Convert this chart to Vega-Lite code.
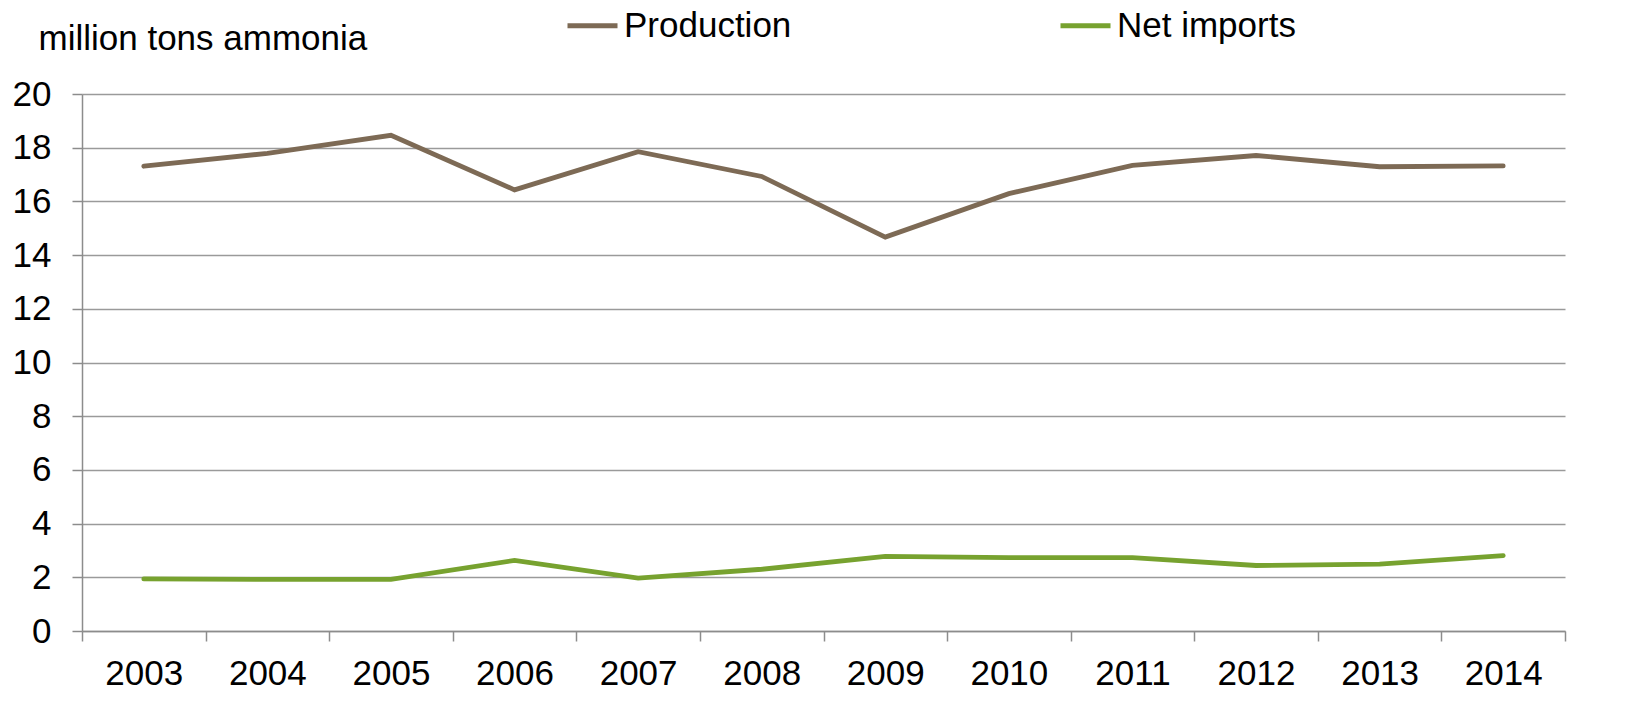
{
  "$schema": "https://vega.github.io/schema/vega-lite/v6.json",
  "autosize": "none",
  "width": 1483,
  "height": 537,
  "padding": {"left": 82, "top": 94, "right": 87, "bottom": 93},
  "background": "white",
  "config": {"font": "Liberation Sans", "view": {"stroke": null}},
  "data": {"values": [
    {"year": "2003", "series": "Production", "value": 17.31},
    {"year": "2004", "series": "Production", "value": 17.79},
    {"year": "2005", "series": "Production", "value": 18.46},
    {"year": "2006", "series": "Production", "value": 16.43},
    {"year": "2007", "series": "Production", "value": 17.85},
    {"year": "2008", "series": "Production", "value": 16.93},
    {"year": "2009", "series": "Production", "value": 14.67},
    {"year": "2010", "series": "Production", "value": 16.29},
    {"year": "2011", "series": "Production", "value": 17.34},
    {"year": "2012", "series": "Production", "value": 17.71},
    {"year": "2013", "series": "Production", "value": 17.29},
    {"year": "2014", "series": "Production", "value": 17.32},
    {"year": "2003", "series": "Net imports", "value": 1.94},
    {"year": "2004", "series": "Net imports", "value": 1.92},
    {"year": "2005", "series": "Net imports", "value": 1.92},
    {"year": "2006", "series": "Net imports", "value": 2.63},
    {"year": "2007", "series": "Net imports", "value": 1.97},
    {"year": "2008", "series": "Net imports", "value": 2.3},
    {"year": "2009", "series": "Net imports", "value": 2.78},
    {"year": "2010", "series": "Net imports", "value": 2.73},
    {"year": "2011", "series": "Net imports", "value": 2.73},
    {"year": "2012", "series": "Net imports", "value": 2.44},
    {"year": "2013", "series": "Net imports", "value": 2.49},
    {"year": "2014", "series": "Net imports", "value": 2.81}
  ]},
  "mark": {"type": "line", "strokeWidth": 4.8, "strokeCap": "round", "strokeJoin": "miter"},
  "encoding": {
    "x": {
      "field": "year", "type": "ordinal", "bandPosition": 0.5,
      "scale": {"type": "band", "paddingInner": 0, "paddingOuter": 0},
      "axis": {
        "title": null, "labelAngle": 0, "labelFontSize": 35, "labelColor": "#000000",
        "labelPadding": 15, "tickBand": "extent", "tickSize": 10, "tickColor": "#8c8c8c",
        "tickWidth": 1.5, "domainColor": "#8c8c8c", "domainWidth": 1.5, "grid": false
      }
    },
    "y": {
      "field": "value", "type": "quantitative",
      "scale": {"domain": [0, 20], "nice": false},
      "axis": {
        "values": [0, 2, 4, 6, 8, 10, 12, 14, 16, 18, 20],
        "title": "million tons ammonia", "titleAngle": 0, "titleAlign": "left",
        "titleBaseline": "middle", "titleX": -44, "titleY": -56, "titleFontSize": 35,
        "titleFontWeight": "normal", "titleColor": "#000000",
        "labelFontSize": 35, "labelColor": "#000000", "labelPadding": 21,
        "tickSize": 10, "tickColor": "#8c8c8c", "tickWidth": 1.5,
        "domainColor": "#8c8c8c", "domainWidth": 1.5,
        "grid": true, "gridColor": "#9a9a9a", "gridWidth": 1.5
      }
    },
    "color": {
      "field": "series", "type": "nominal",
      "scale": {"domain": ["Production", "Net imports"], "range": ["#7D6A55", "#77A22F"]},
      "legend": {
        "title": null, "orient": "none", "direction": "horizontal",
        "legendX": 483, "legendY": -96,
        "symbolType": "stroke", "symbolSize": 2500, "symbolStrokeWidth": 5,
        "labelFontSize": 35, "labelColor": "#000000", "labelOffset": 4,
        "columnPadding": 258, "labelLimit": 400
      }
    }
  }
}
